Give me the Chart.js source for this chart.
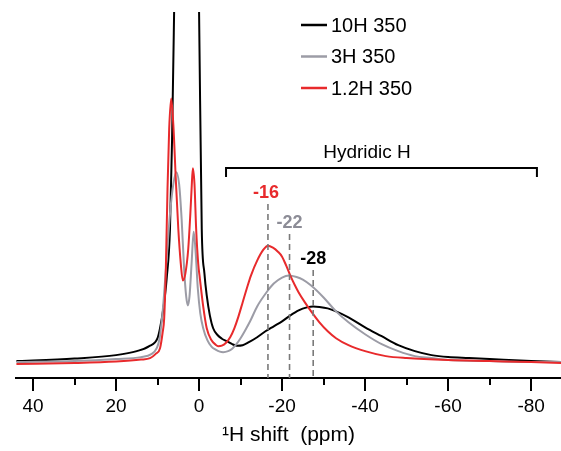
<!DOCTYPE html>
<html>
<head>
<meta charset="utf-8">
<script src="https://cdn.jsdelivr.net/npm/chart.js@4/dist/chart.umd.min.js"></script>
<style>
  body { margin: 0; background: #fff; }
  canvas { display: block; }
</style>
</head>
<body>
<canvas id="chartNmr" width="561" height="451"></canvas>
<script>
const seriesNames = ['10H 350', '3H 350', '1.2H 350'];

const blackPpm = [44, 40, 30, 20, 15, 12, 10, 9.4, 8.6, 7.8, 7, 6.5, 6, 4.5, 1.5, 0, -0.65, -1.3, -1.85, -2.6, -3.4, -4.5, -5.5, -6.7, -8, -9.1, -10.5, -12, -14, -16, -18, -20, -22, -24, -26, -27.5, -29, -31, -33, -36, -40, -44, -48, -52, -56, -60, -65, -70, -80, -88];
const blackVal = [17, 17.5, 19.5, 23, 27, 32, 40, 50, 70, 100, 150, 240, 370, 800, 800, 370, 150, 105, 83, 63, 50, 43, 39.5, 37, 34, 32.5, 33, 36, 41, 47, 52, 57, 63, 68, 71, 72, 71.5, 70, 67, 61, 51, 42, 33, 27, 23, 21, 20, 19, 17, 16];

const grayPpm = [44, 30, 20, 14, 11.5, 10.2, 9.5, 8.7, 7.8, 7, 6.2, 5.5, 4.8, 4.2, 3.6, 3.1, 2.7, 2.3, 1.8, 1.3, 0.8, 0.3, -0.3, -1, -2, -3, -4, -5, -5.8, -7, -8, -9, -10, -11, -12.3, -14, -16.4, -18, -20, -21.7, -23.5, -25, -27, -30, -33, -36, -40, -44, -48, -52, -56, -60, -70, -80, -88];
const grayVal = [16, 17, 19, 21, 24, 30, 40, 70, 120, 165, 195, 207, 195, 160, 110, 82, 73, 82, 115, 147, 125, 90, 65, 50, 38, 31.5, 28.5, 26.5, 26, 27, 29.5, 34, 40, 47, 57, 72, 87, 95, 101, 103, 101.5, 99, 93, 81, 67, 56, 44, 34, 27, 22, 20, 18, 17, 16, 16];

const redPpm = [44, 30, 20, 14, 11.8, 10.5, 9.4, 8.8, 8.4, 8, 7.6, 7.2, 6.7, 6.2, 5.6, 5, 4.4, 3.9, 3.3, 2.6, 2.1, 1.8, 1.5, 1.1, 0.7, 0.2, -0.2, -1, -1.85, -3, -4, -4.6, -5.5, -6.5, -7.5, -8.5, -9.5, -10.5, -11.5, -12.5, -14, -15.5, -16.6, -17.8, -19, -20, -21, -22, -23, -24, -25.5, -27, -29, -31, -33, -36, -40, -45, -50, -60, -70, -80, -88];
const redVal = [14, 15, 16.5, 18.5, 20, 24, 30, 45, 60, 110, 190, 250, 281, 255, 200, 150, 115, 98, 105, 130, 165, 190, 211, 195, 150, 115, 100, 72, 50, 38, 33.5, 32, 32.5, 35.5, 41, 50, 62, 76, 90, 103, 118, 129, 133, 131, 127, 122, 113, 103, 94, 86, 76, 67, 56, 47, 40, 33, 27, 22, 20, 18, 17, 16, 15];

const majorTicks = [40, 20, 0, -20, -40, -60, -80];
const minorTicks = [30, 10, -10, -30, -50, -70];

// picos marcados
const peakPpm = [-16.6, -21.8, -27.5];
const peakLabels = ['-16', '-22', '-28'];
const peakTop = [204, 234, 270];
const bracketRange = [-6.5, -81.4];

const colores = ['#000000', '#9c9ca6', '#e82a2c'];
const labelColores = ['#e82a2c', '#8c8c96', '#000000'];

function puntos(xs, ys) {
    return xs.map((x, i) => ({ x: x, y: ys[i] }));
}

const anotaciones = {
    id: 'anotaciones',
    afterDraw(chart) {
        const ctx = chart.ctx;
        const xs = chart.scales.x;
        const area = chart.chartArea;
        ctx.save();

        // ticks menores
        ctx.strokeStyle = '#000';
        ctx.lineWidth = 2;
        minorTicks.forEach(v => {
            const px = Math.round(xs.getPixelForValue(v));
            ctx.beginPath();
            ctx.moveTo(px, area.bottom);
            ctx.lineTo(px, area.bottom + 7);
            ctx.stroke();
        });

        // lineas punteadas de los picos
        ctx.strokeStyle = '#7a7a7a';
        ctx.lineWidth = 1.6;
        ctx.setLineDash([6, 4]);
        peakPpm.forEach((p, i) => {
            const px = xs.getPixelForValue(p);
            ctx.beginPath();
            ctx.moveTo(px, peakTop[i]);
            ctx.lineTo(px, area.bottom);
            ctx.stroke();
        });
        ctx.setLineDash([]);

        ctx.font = 'bold 18px "Liberation Sans", Arial, sans-serif';
        ctx.textAlign = 'center';
        ctx.textBaseline = 'middle';
        peakPpm.forEach((p, i) => {
            const px = xs.getPixelForValue(p);
            ctx.fillStyle = labelColores[i];
            ctx.fillText(peakLabels[i], px + (i === 0 ? -2 : 0), peakTop[i] - 11);
        });

        // corchete Hydridic H
        const b0 = xs.getPixelForValue(bracketRange[0]);
        const b1 = xs.getPixelForValue(bracketRange[1]);
        ctx.strokeStyle = '#000';
        ctx.lineWidth = 2;
        ctx.beginPath();
        ctx.moveTo(b0, 177);
        ctx.lineTo(b0, 168);
        ctx.lineTo(b1, 168);
        ctx.lineTo(b1, 177);
        ctx.stroke();
        ctx.fillStyle = '#000';
        ctx.font = '19px "Liberation Sans", Arial, sans-serif';
        ctx.fillText('Hydridic H', 367, 153);

        // leyenda
        ctx.textAlign = 'left';
        ctx.font = '20px "Liberation Sans", Arial, sans-serif';
        chart.data.datasets.forEach((ds, i) => {
            const y = 25 + i * 31.5;
            ctx.strokeStyle = ds.borderColor;
            ctx.lineWidth = 2.5;
            ctx.beginPath();
            ctx.moveTo(301, y);
            ctx.lineTo(327, y);
            ctx.stroke();
            ctx.fillStyle = '#000';
            ctx.fillText(ds.label, 331, y + 1);
        });

        ctx.restore();
    }
};

new Chart(document.getElementById('chartNmr'), {
    type: 'line',
    data: {
        datasets: [
            { label: seriesNames[0], data: puntos(blackPpm, blackVal), borderColor: colores[0], order: 3 },
            { label: seriesNames[1], data: puntos(grayPpm, grayVal), borderColor: colores[1], order: 2 },
            { label: seriesNames[2], data: puntos(redPpm, redVal), borderColor: colores[2], order: 1 }
        ]
    },
    options: {
        responsive: false,
        animation: false,
        layout: { padding: { left: 16, right: 0, top: 12, bottom: 0 } },
        elements: {
            point: { radius: 0 },
            line: { borderWidth: 2, cubicInterpolationMode: 'monotone', fill: false }
        },
        plugins: { legend: { display: false }, tooltip: { enabled: false } },
        scales: {
            x: {
                type: 'linear',
                reverse: true,
                min: -87.2,
                max: 44.1,
                afterBuildTicks: s => { s.ticks = majorTicks.map(v => ({ value: v })); },
                border: { display: true, color: '#000', width: 2 },
                grid: { drawOnChartArea: false, tickLength: 13, color: '#000', lineWidth: 2 },
                ticks: {
                    color: '#000',
                    padding: 4,
                    maxRotation: 0,
                    font: { family: '"Liberation Sans", Arial, sans-serif', size: 19 },
                    callback: v => String(v)
                },
                title: {
                    display: true,
                    text: '\u00b9H shift  (ppm)',
                    color: '#000',
                    font: { family: '"Liberation Sans", Arial, sans-serif', size: 21 },
                    padding: { top: 1, bottom: 3 }
                }
            },
            y: { display: false, min: 0, max: 368 }
        }
    },
    plugins: [anotaciones]
});
</script>
</body>
</html>
